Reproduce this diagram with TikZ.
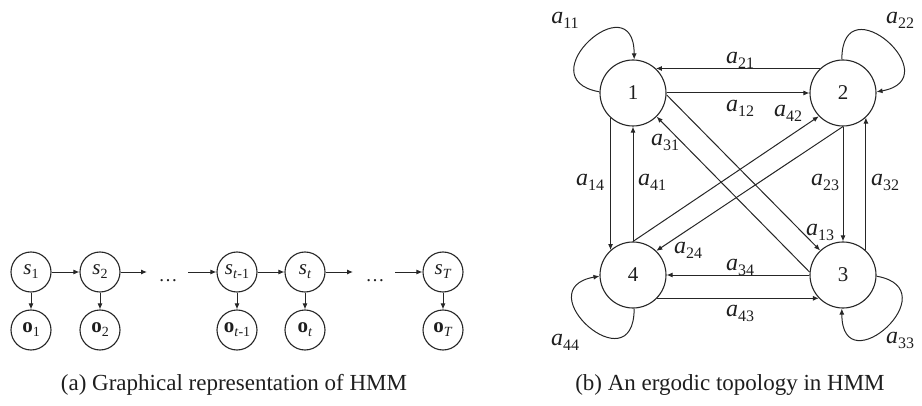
\documentclass[tikz,border=0pt]{standalone}
\usepackage{fontspec}
\setmainfont{Liberation Serif}
\usetikzlibrary{arrows.meta}
\definecolor{linec}{HTML}{262626}
\definecolor{textc}{HTML}{1E1E1E}
\newcommand\lab[1]{\fontsize{24}{24}\selectfont\textit{a}\raisebox{-5pt}{\fontsize{16}{16}\selectfont #1}}
\newcommand\slab[1]{\fontsize{21}{21}\selectfont\textit{s}\raisebox{-4pt}{\fontsize{14}{14}\selectfont #1}}
\newcommand\olab[1]{\fontsize{21}{21}\selectfont\textbf{o}\raisebox{-4pt}{\fontsize{14}{14}\selectfont #1}}
\begin{document}
\begin{tikzpicture}[x=1pt,y=1pt,
  big/.style={circle,draw=linec,line width=1.1pt,minimum size=66pt,inner sep=0pt,text=textc,font=\fontsize{21}{21}\selectfont},
  small/.style={circle,draw=linec,line width=1.1pt,minimum size=40pt,inner sep=0pt,text=textc},
  arr/.style={draw=linec,line width=1pt,-{Latex[length=6pt,width=5pt]}},
  lbl/.style={inner sep=0pt,text=textc},
  captxt/.style={inner sep=0pt,text=textc,font=\fontsize{23}{23}\selectfont}]
\useasboundingbox (0,0) rectangle (922,405);
% ---------- (a) ----------
\node[small] (s1) at (31,133) {\slab{1}};
\node[small] (s2) at (100,133) {\slab{2}};
\node[small] (st1) at (237,133) {\slab{\textit{t}-1}};
\node[small] (st) at (305,133) {\slab{\textit{t}}};
\node[small] (sT) at (443,133) {\slab{\textit{T}}};
\node[small] (o1) at (31,75) {\olab{1}};
\node[small] (o2) at (100,75) {\olab{2}};
\node[small] (ot1) at (237,75) {\olab{\textit{t}-1}};
\node[small] (ot) at (305,75) {\olab{\textit{t}}};
\node[small] (oT) at (443,75) {\olab{\textit{T}}};
\node[lbl,anchor=base,font=\fontsize{19}{19}\selectfont] (d1) at (168,124) {\ldots};
\node[lbl,anchor=base,font=\fontsize{19}{19}\selectfont] (d2) at (375,124) {\ldots};
\coordinate (e1) at (147,133);
\coordinate (b1) at (188,133);
\coordinate (e2) at (353,133);
\coordinate (b2) at (395,133);
\draw[arr] (s1) -- (s2);
\draw[arr] (s2) -- (e1);
\draw[arr] (b1) -- (st1);
\draw[arr] (st1) -- (st);
\draw[arr] (st) -- (e2);
\draw[arr] (b2) -- (sT);
\foreach \a/\b in {s1/o1,s2/o2,st1/ot1,st/ot,sT/oT} \draw[arr] (\a) -- (\b);
\node[captxt] (capa) at (234,20) {(a) Graphical representation of HMM};
% ---------- (b) ----------
\node[big] (n1) at (633,312) {1};
\node[big] (n2) at (843,312) {2};
\node[big] (n3) at (843,130) {3};
\node[big] (n4) at (633,130) {4};
% horizontal
\draw[arr] (n2.133) -- (n1.47);
\draw[arr] (n1.east) -- (n2.west);
\draw[arr] (n3.west) -- (n4.east);
\draw[arr] (n4.316) -- (n3.224);
% vertical
\draw[arr] (n1.228) -- (n4.132);
\draw[arr] (n4.north) -- (n1.south);
\draw[arr] (n2.south) -- (n3.north);
\draw[arr] (n3.47) -- (n2.313);
% diagonals
\draw[arr] (n1.357) -- (n3.133);
\draw[arr] (n3.175) -- (n1.315);
\draw[arr] (n4.north) -- (n2.224);
\draw[arr] (n2.south) -- (n4.46);
% self loops
\draw[arr] (n1.178) .. controls +(170:75) and +(90:78) .. (n1.88);
\draw[arr] (n2.92) .. controls +(90:78) and +(10:75) .. (n2.2);
\draw[arr] (n4.272) .. controls +(270:78) and +(190:75) .. (n4.182);
\draw[arr] (n3.358) .. controls +(350:75) and +(270:78) .. (n3.268);
% labels
\node[lbl] (l11) at (565,385) {\lab{11}};
\node[lbl] (l22) at (900,385) {\lab{22}};
\node[lbl] (l21) at (740,345) {\lab{21}};
\node[lbl] (l12) at (740,297) {\lab{12}};
\node[lbl] (l42) at (788,292) {\lab{42}};
\node[lbl] (l31) at (665,263) {\lab{31}};
\node[lbl] (l14) at (590,223) {\lab{14}};
\node[lbl] (l41) at (652,223) {\lab{41}};
\node[lbl] (l23) at (825,223) {\lab{23}};
\node[lbl] (l32) at (885,223) {\lab{32}};
\node[lbl] (l13) at (820,173) {\lab{13}};
\node[lbl] (l24) at (688,155) {\lab{24}};
\node[lbl] (l34) at (740,138) {\lab{34}};
\node[lbl] (l43) at (740,92) {\lab{43}};
\node[lbl] (l44) at (565,63) {\lab{44}};
\node[lbl] (l33) at (900,65) {\lab{33}};
\node[captxt] (capb) at (730,20) {(b) An ergodic topology in HMM};
\end{tikzpicture}
\end{document}
